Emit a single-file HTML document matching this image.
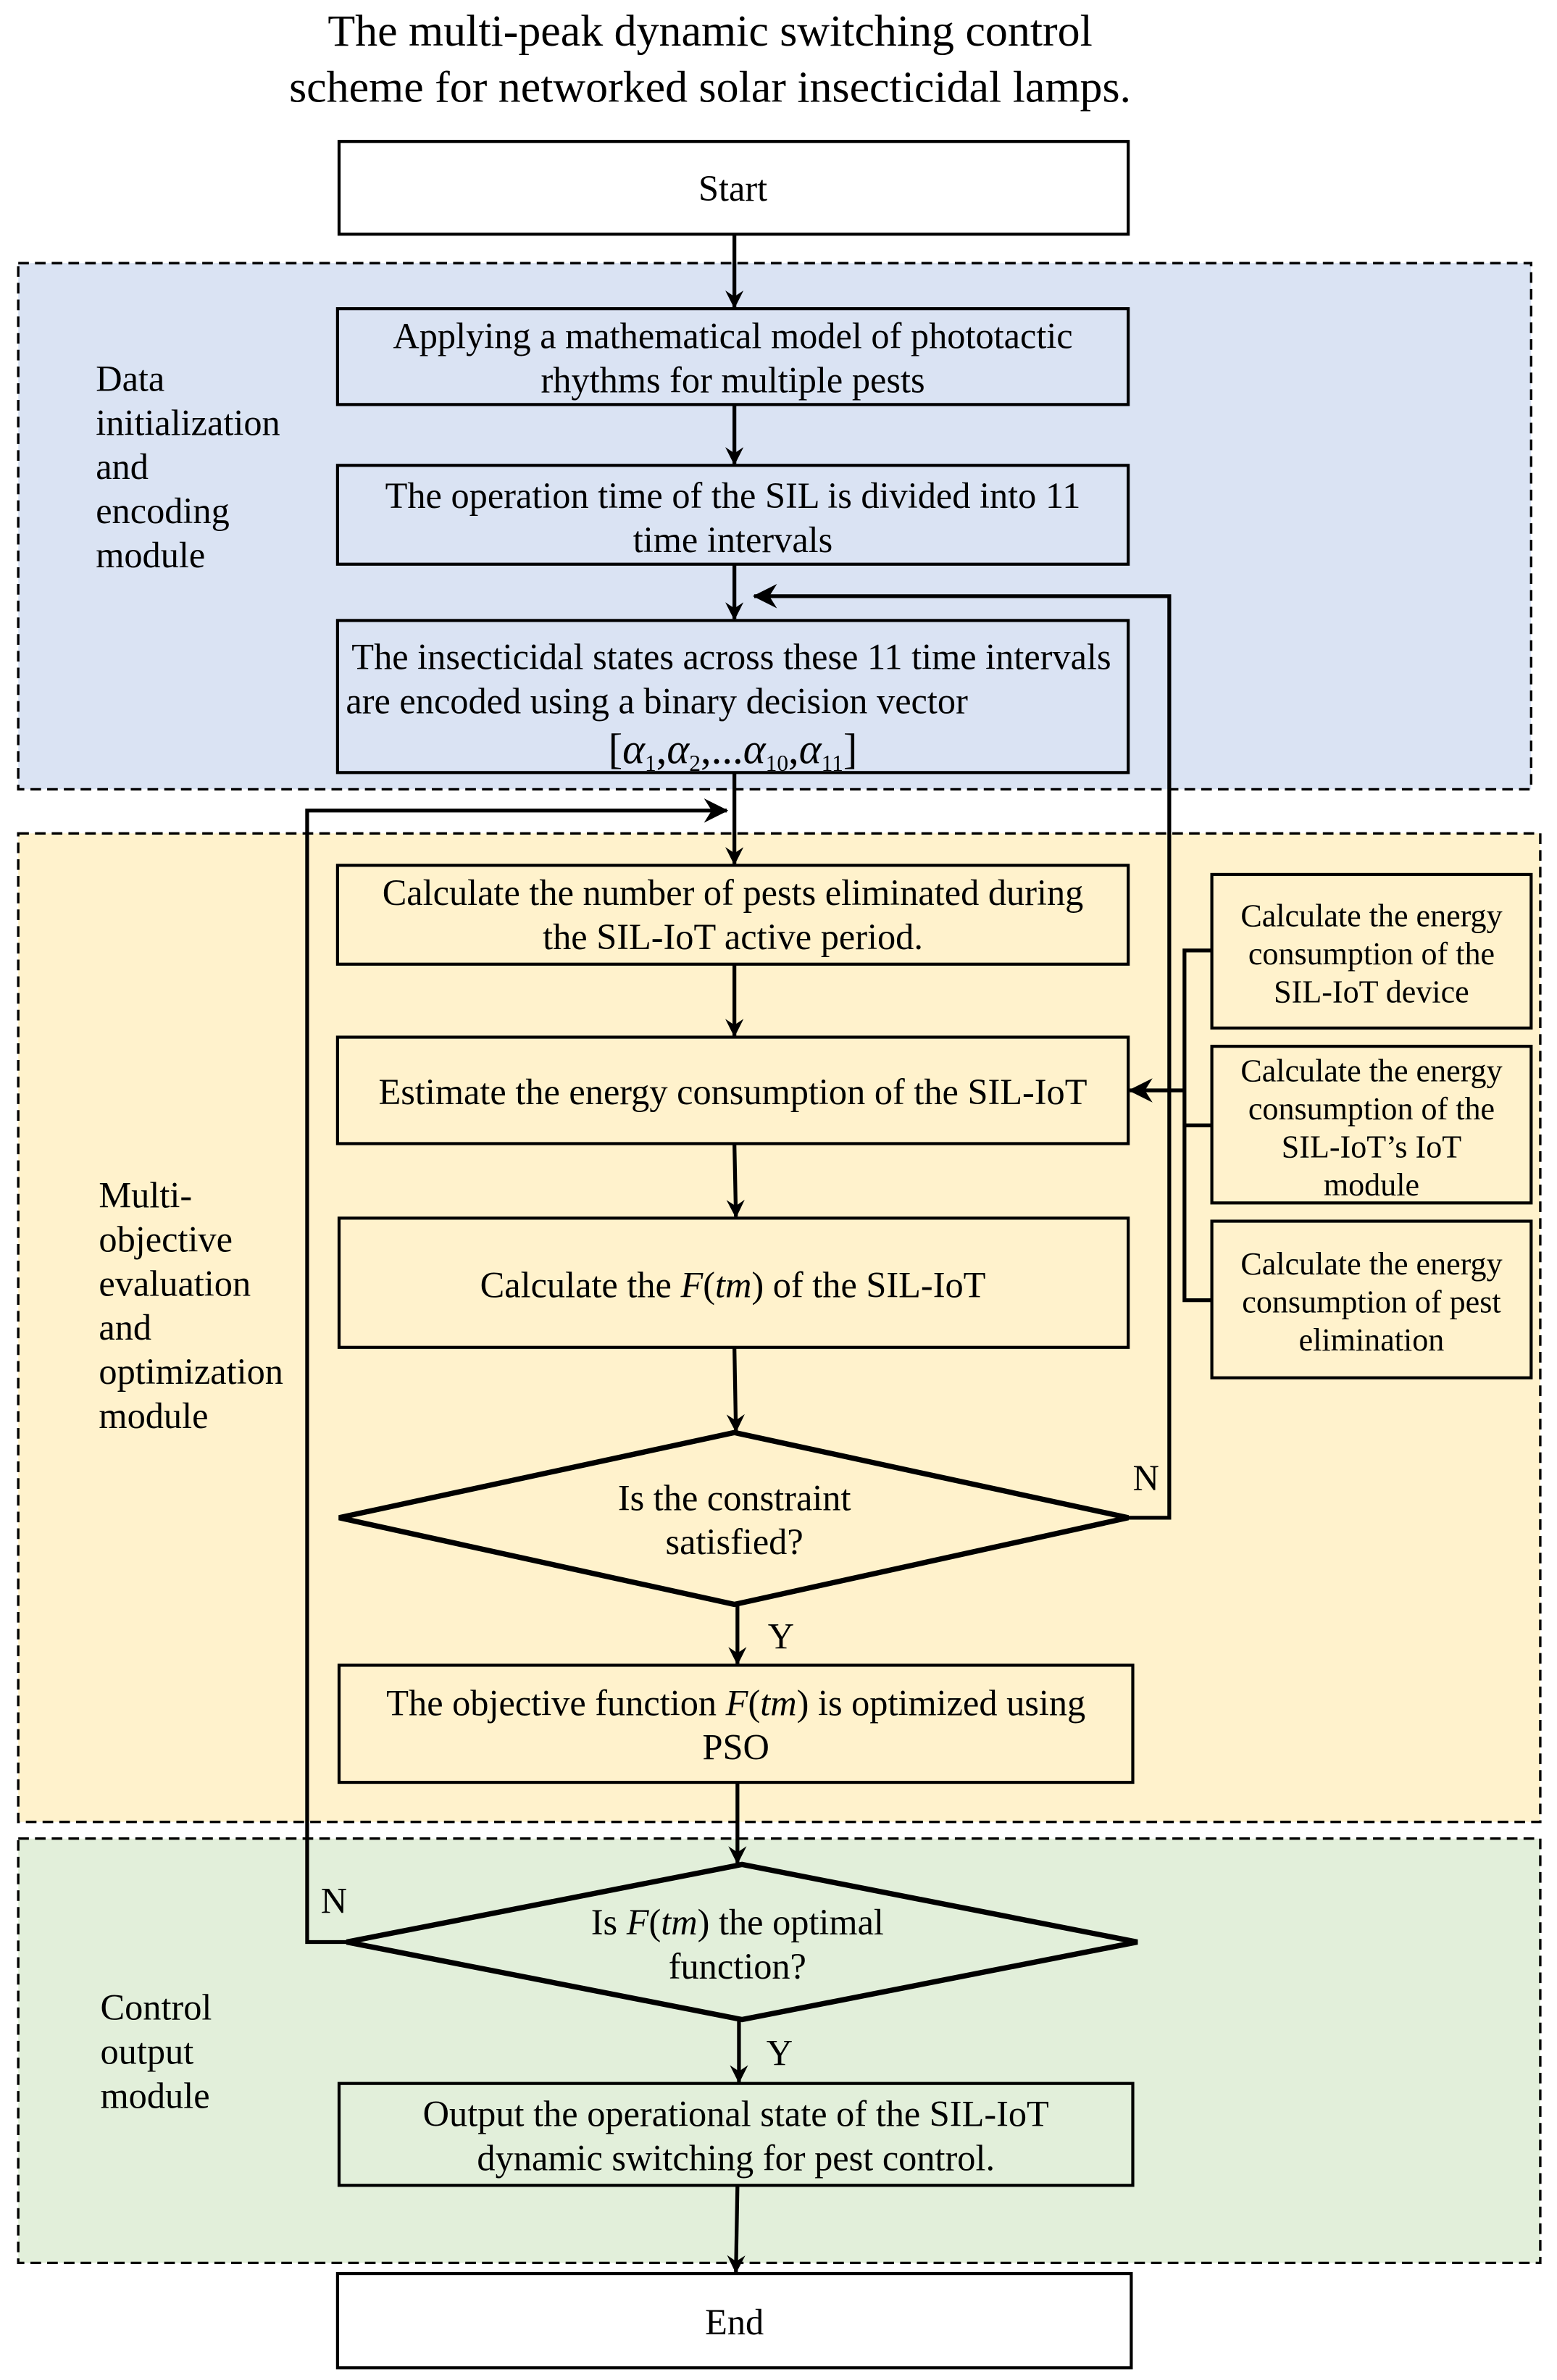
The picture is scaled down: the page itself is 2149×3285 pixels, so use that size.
<!DOCTYPE html>
<html><head><meta charset="utf-8"><style>
html,body{margin:0;padding:0;background:#fff}
svg{display:block}
text{font-family:"Liberation Serif","Times New Roman",serif;fill:#000}
</style></head><body>
<svg width="2149" height="3285" viewBox="0 0 1024 1565" preserveAspectRatio="none" xmlns="http://www.w3.org/2000/svg">
<defs>
<marker id="a" markerWidth="12" markerHeight="12" refX="11" refY="6" orient="auto" markerUnits="userSpaceOnUse" viewBox="0 0 12 12">
<path d="M0,0 L12,6 L0,12 L4,6 Z" fill="#000"/></marker>
<marker id="b" markerWidth="16" markerHeight="16" refX="15" refY="8" orient="auto" markerUnits="userSpaceOnUse" viewBox="0 0 16 16">
<path d="M0,0 L16,8 L0,16 L5,8 Z" fill="#000"/></marker>
</defs>
<text x="467" y="30" font-size="29.5" text-anchor="middle">The multi-peak dynamic switching control</text>
<text x="467" y="67" font-size="29.5" text-anchor="middle">scheme for networked solar insecticidal lamps.</text>

<rect x="12" y="173" width="995" height="346" fill="#dae3f3" stroke="#000" stroke-width="1.6" stroke-dasharray="7,4"/>
<rect x="12" y="548" width="1001" height="650" fill="#fff2cc" stroke="#000" stroke-width="1.6" stroke-dasharray="7,4"/>
<rect x="12" y="1209" width="1001" height="279" fill="#e2efda" stroke="#000" stroke-width="1.6" stroke-dasharray="7,4"/>

<g fill="none" stroke="#000" stroke-width="2">
<rect x="223" y="93" width="519" height="61" fill="#fff"/>
<rect x="222" y="203" width="520" height="63"/>
<rect x="222" y="306" width="520" height="65"/>
<rect x="222" y="408" width="520" height="100"/>
<rect x="222" y="569" width="520" height="65"/>
<rect x="222" y="682" width="520" height="70"/>
<rect x="223" y="801" width="519" height="85"/>
<rect x="223" y="1095" width="522" height="77"/>
<rect x="223" y="1370" width="522" height="67"/>
<rect x="222" y="1495" width="522" height="62" fill="#fff"/>
<rect x="797" y="575" width="210" height="101"/>
<rect x="797" y="688" width="210" height="103"/>
<rect x="797" y="803" width="210" height="103"/>
</g>
<g fill="none" stroke="#000" stroke-width="3.5">
<path d="M223,998 L483,942 L742,998 L483,1055 Z"/>
<path d="M228,1277 L488,1226 L748,1277 L488,1328 Z"/>
</g>

<g fill="none" stroke="#000" stroke-width="2.5">
<line x1="483" y1="154" x2="483" y2="202" marker-end="url(#a)"/>
<line x1="483" y1="266" x2="483" y2="305" marker-end="url(#a)"/>
<line x1="483" y1="371" x2="483" y2="407" marker-end="url(#a)"/>
<line x1="483" y1="508" x2="483" y2="568" marker-end="url(#a)"/>
<line x1="483" y1="634" x2="483" y2="681" marker-end="url(#a)"/>
<line x1="483" y1="752" x2="484" y2="800" marker-end="url(#a)"/>
<line x1="483" y1="886" x2="484" y2="941" marker-end="url(#a)"/>
<line x1="485" y1="1055" x2="485" y2="1094" marker-end="url(#a)"/>
<line x1="485" y1="1172" x2="485" y2="1225" marker-end="url(#a)"/>
<line x1="486" y1="1328" x2="486" y2="1369" marker-end="url(#a)"/>
<line x1="485" y1="1437" x2="484" y2="1494" marker-end="url(#a)"/>
<polyline points="742,998 769,998 769,392 496,392" marker-end="url(#b)"/>
<polyline points="228,1277 202,1277 202,533 478,533" marker-end="url(#b)"/>
<polyline points="797,625 779,625 779,855 797,855"/>
<line x1="779" y1="740" x2="797" y2="740"/>
<line x1="779" y1="717" x2="743" y2="717" marker-end="url(#b)"/>
</g>

<g font-size="24">
<text x="745" y="980">N</text>
<text x="505" y="1084">Y</text>
<text x="211" y="1258">N</text>
<text x="504" y="1358">Y</text>
<text x="63" y="257">Data</text>
<text x="63" y="286">initialization</text>
<text x="63" y="315">and</text>
<text x="63" y="344">encoding</text>
<text x="63" y="373">module</text>
<text x="65" y="794">Multi-</text>
<text x="65" y="823">objective</text>
<text x="65" y="852">evaluation</text>
<text x="65" y="881">and</text>
<text x="65" y="910">optimization</text>
<text x="65" y="939">module</text>
<text x="66" y="1328">Control</text>
<text x="66" y="1357">output</text>
<text x="66" y="1386">module</text>
</g>
<g font-size="24" text-anchor="middle">
<text x="482" y="132">Start</text>
<text x="482" y="229">Applying a mathematical model of phototactic</text>
<text x="482" y="258">rhythms for multiple pests</text>
<text x="482" y="334">The operation time of the SIL is divided into 11</text>
<text x="482" y="363">time intervals</text>
<text x="481" y="440">The insecticidal states across these 11 time intervals</text>
<text x="432" y="469">are encoded using a binary decision vector</text>
<text x="482" y="502" font-size="28">[<tspan font-style="italic">α</tspan><tspan font-size="15" dy="5">1</tspan><tspan dy="-5">,</tspan><tspan font-style="italic">α</tspan><tspan font-size="15" dy="5">2</tspan><tspan dy="-5">,...</tspan><tspan font-style="italic">α</tspan><tspan font-size="15" dy="5">10</tspan><tspan dy="-5">,</tspan><tspan font-style="italic">α</tspan><tspan font-size="15" dy="5">11</tspan><tspan dy="-5">]</tspan></text>
<text x="482" y="595">Calculate the number of pests eliminated during</text>
<text x="482" y="624">the SIL-IoT active period.</text>
<text x="482" y="726">Estimate the energy consumption of the SIL-IoT</text>
<text x="482" y="853">Calculate the <tspan font-style="italic">F</tspan>(<tspan font-style="italic">tm</tspan>) of the SIL-IoT</text>
<text x="483" y="993">Is the constraint</text>
<text x="483" y="1022">satisfied?</text>
<text x="484" y="1128">The objective function <tspan font-style="italic">F</tspan>(<tspan font-style="italic">tm</tspan>) is optimized using</text>
<text x="484" y="1157">PSO</text>
<text x="485" y="1272">Is  <tspan font-style="italic">F</tspan>(<tspan font-style="italic">tm</tspan>) the optimal</text>
<text x="485" y="1301">function?</text>
<text x="484" y="1398">Output the operational state of the SIL-IoT</text>
<text x="484" y="1427">dynamic switching for pest control.</text>
<text x="483" y="1535">End</text>
</g>
<g font-size="21" text-anchor="middle">
<text x="902" y="609">Calculate the energy</text>
<text x="902" y="634">consumption of the</text>
<text x="902" y="659">SIL-IoT device</text>
<text x="902" y="711">Calculate the energy</text>
<text x="902" y="736">consumption of the</text>
<text x="902" y="761">SIL-IoT’s IoT</text>
<text x="902" y="786">module</text>
<text x="902" y="838">Calculate the energy</text>
<text x="902" y="863">consumption of pest</text>
<text x="902" y="888">elimination</text>
</g>
</svg>
</body></html>
